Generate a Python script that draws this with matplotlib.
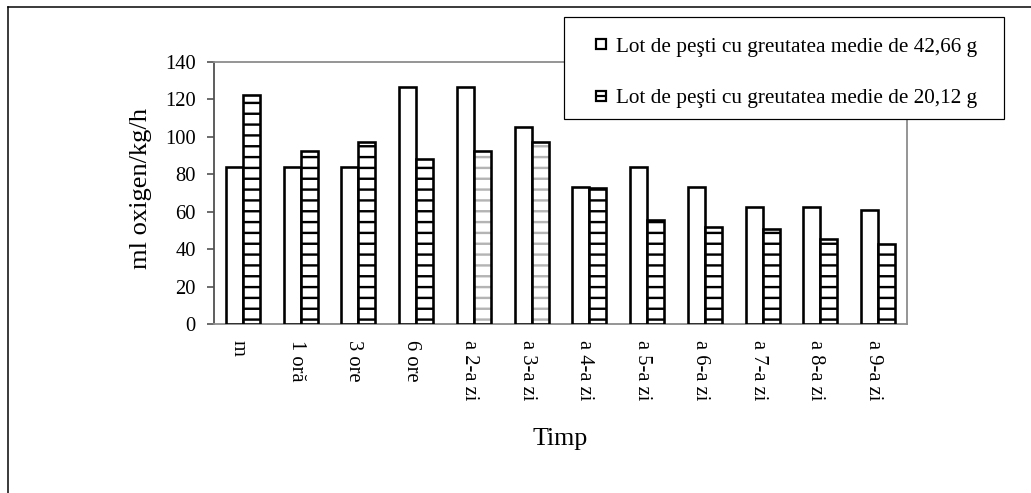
import numpy as np
import matplotlib
matplotlib.use("Agg")
import matplotlib.pyplot as plt
import matplotlib.transforms as mtransforms
from matplotlib.lines import Line2D
from matplotlib.patches import Rectangle

## data
categories = ["m", "1 oră", "3 ore", "6 ore", "a 2-a zi", "a 3-a zi",
              "a 4-a zi", "a 5-a zi", "a 6-a zi", "a 7-a zi", "a 8-a zi", "a 9-a zi"]
lot_mare = [84, 84, 84, 126.5, 126.5, 105.5, 73, 84, 73, 62.5, 62.5, 61]
lot_mic = [122.5, 92.5, 97.5, 88, 92.5, 97.5, 72.5, 55.5, 52, 50.5, 45.5, 43]
labels = ["Lot de peşti cu greutatea medie de 42,66 g",
          "Lot de peşti cu greutatea medie de 20,12 g"]
yticks = [0, 20, 40, 60, 80, 100, 120, 140]

DPI = 65
W, H = 1031, 493
pt = lambda px: px * 72.0 / DPI   # pixels -> points

plt.rcParams['font.family'] = ['Liberation Serif', 'DejaVu Serif']
plt.rcParams['hatch.linewidth'] = pt(2.4)

fig = plt.figure(figsize=(W / DPI, H / DPI), dpi=DPI)
ax = fig.add_axes([214 / W, 1 - 324 / H, 693 / W, 262 / H])

x = np.arange(len(categories))
w = 0.295
edge = pt(2.6)

# white bars
ax.bar(x - w / 2, lot_mare, w, facecolor='white', edgecolor='black', linewidth=edge, zorder=3)

# striped bars: hatch first (two of them came out grey in the original), then outline
hatch_cols = ['black'] * len(categories)
hatch_cols[4] = '#b4b4b4'
hatch_cols[5] = '#b4b4b4'
ax.bar(x + w / 2, lot_mic, w, facecolor='white', edgecolor=hatch_cols, hatch='-', linewidth=0, zorder=3)
ax.bar(x + w / 2, lot_mic, w, facecolor='none', edgecolor='black', linewidth=edge, zorder=4)

ax.set_xlim(-0.5, len(categories) - 0.5)
ax.set_ylim(0, 140)
ax.set_yticks(yticks)
ax.set_xticks(x)
ax.set_xticklabels(categories, rotation=270, fontsize=pt(20.5), va='top', ha='center')
ax.tick_params(axis='x', length=0, pad=pt(16))
ax.tick_params(axis='y', direction='out', length=pt(7), width=pt(1.5), color='#404040',
               labelsize=pt(20.5), pad=pt(11))
# category labels sit a little left of the group centre
shift = mtransforms.ScaledTranslation(-4.5 / DPI, 0, fig.dpi_scale_trans)
for lab in ax.get_xticklabels():
    lab.set_transform(lab.get_transform() + shift)

for s in ['top', 'right', 'bottom']:
    ax.spines[s].set_color('#8c8c8c')
    ax.spines[s].set_linewidth(pt(1.8))
ax.spines['left'].set_color('#505050')
ax.spines['left'].set_linewidth(pt(1.8))

fig.text(141 / W, 1 - 188 / H, "ml oxigen/kg/h", rotation=90, ha='center', va='center',
         fontsize=pt(26.5))
fig.text(560.5 / W, 1 - 445 / H, "Timp", ha='center', va='baseline', fontsize=pt(26))

# legend: small squares, the second one with a bar through it
ms = pt(10)
mew = pt(2.2)
sq = dict(marker='s', linestyle='none', markersize=ms, markerfacecolor='white',
          markeredgecolor='black', markeredgewidth=mew)
h1 = Line2D([], [], **sq)
h2 = (Line2D([], [], **sq),
      Line2D([], [], marker='_', linestyle='none', markersize=ms, markeredgecolor='black',
             markeredgewidth=mew))
# legend box drawn separately so its size matches the original
fig.add_artist(Rectangle((564 / W, 1 - 119 / H), 440 / W, 102 / H, transform=fig.transFigure,
                         facecolor='white', edgecolor='black', linewidth=pt(1.2), zorder=5))
leg = fig.legend([h1, h2], labels, loc='upper left', bbox_to_anchor=(564 / W, 1 - 17 / H),
                 bbox_transform=fig.transFigure, borderaxespad=0, frameon=False,
                 fontsize=pt(21.3), handlelength=1.62, handleheight=0.6, handletextpad=-0.14,
                 borderpad=0.95, labelspacing=1.5)
leg.set_zorder(6)

# outer frame (only top and left edges are visible)
fig.add_artist(Line2D([8 / W, 1], [1 - 7 / H, 1 - 7 / H], transform=fig.transFigure,
                      color='black', linewidth=pt(1.5)))
fig.add_artist(Line2D([8 / W, 8 / W], [0, 1 - 7 / H], transform=fig.transFigure,
                      color='black', linewidth=pt(1.5)))

fig.savefig("out.png", dpi=DPI, facecolor='white')
